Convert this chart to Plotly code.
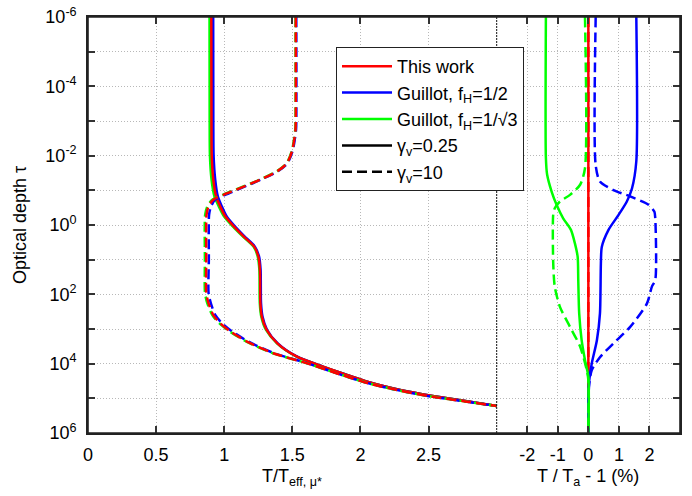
import plotly.graph_objects as go

# ---------------- data ----------------
# Left panel: T / T_eff,mu*  vs optical depth tau
red_solid_tau = [1e-6, 1e-3, 1e-2, 5e-2, 0.15, 0.29, 0.56, 1.1, 2.1, 4.2, 7.9, 20, 180, 440,
                 1050, 2600, 6200, 1.2e4, 2.1e4, 3.3e4, 5.8e4, 8.5e4, 1.2e5, 1.66e5]
red_solid_T = [0.905, 0.906, 0.908, 0.92, 0.94, 0.97, 1.007, 1.07, 1.14, 1.22, 1.25, 1.262, 1.265, 1.276,
               1.31, 1.39, 1.53, 1.72, 1.90, 2.05, 2.30, 2.53, 2.77, 3.0]
green_solid_T = [0.892, 0.893, 0.895, 0.907, 0.928, 0.96, 0.998, 1.063, 1.134, 1.215, 1.245, 1.258, 1.261, 1.272,
                 1.306, 1.387, 1.528, 1.72, 1.90, 2.05, 2.30, 2.53, 2.77, 3.0]
blue_solid_T = [0.919, 0.92, 0.922, 0.934, 0.953, 0.982, 1.017, 1.078, 1.147, 1.225, 1.255, 1.267, 1.27, 1.281,
                1.314, 1.393, 1.532, 1.72, 1.90, 2.05, 2.30, 2.53, 2.77, 3.0]

dashed_tau = [1e-6, 1e-3, 1.8e-3, 6.8e-3, 1.66e-2, 2.8e-2, 4.9e-2, 8.5e-2, 0.135, 0.186, 0.29, 0.5, 10,
              93, 182, 400, 680, 1170, 2300, 5000, 9800, 2.1e4, 3.7e4, 6e4, 8.9e4, 1.23e5, 1.66e5]
red_dashed_T = [1.525, 1.525, 1.523, 1.50, 1.46, 1.39, 1.265, 1.12, 0.995, 0.92, 0.885, 0.87, 0.868,
                0.868, 0.885, 0.92, 0.97, 1.044, 1.167, 1.36, 1.61, 1.86, 2.06, 2.29, 2.52, 2.77, 3.0]
green_dashed_T = [1.523, 1.523, 1.521, 1.498, 1.458, 1.387, 1.262, 1.114, 0.989, 0.912, 0.876, 0.86, 0.858,
                  0.859, 0.876, 0.913, 0.963, 1.039, 1.163, 1.357, 1.609, 1.86, 2.06, 2.29, 2.52, 2.77, 3.0]
blue_dashed_T = [1.529, 1.529, 1.527, 1.504, 1.464, 1.394, 1.27, 1.128, 1.007, 0.934, 0.903, 0.889, 0.887,
                 0.885, 0.902, 0.935, 0.984, 1.057, 1.177, 1.366, 1.612, 1.86, 2.06, 2.29, 2.52, 2.77, 3.0]

# Right panel: T / T_a - 1 (%) vs optical depth tau
red_tau = [1e-6, 1e6]
red_pct = [0.0, 0.0]
green_solid_tau = [1e-6, 1.15e-2, 3.5e-2, 0.11, 0.26, 0.65, 1.38, 3.4, 8.3, 39, 355, 2100, 7900, 2.4e4, 1e6]
green_solid_pct = [-1.39, -1.39, -1.35, -1.20, -1.04, -0.82, -0.57, -0.44, -0.35, -0.33, -0.30, -0.22, -0.11, 0.0, 0.0]
blue_solid_tau = [1e-6, 1.45e-2, 8.7e-2, 0.21, 0.51, 1.38, 4.3, 12.9, 355, 2100, 1e4, 3e4, 1e5, 1e6]
blue_solid_pct = [1.57, 1.57, 1.43, 1.26, 0.99, 0.66, 0.44, 0.41, 0.38, 0.28, 0.11, 0.03, 0.0, 0.0]
green_dashed_tau = [1e-6, 2.3e-2, 6.9e-2, 0.135, 0.21, 0.33, 0.5, 12.6, 60, 230, 870, 3200, 1.55e4, 3e4, 1e6]
green_dashed_pct = [-0.11, -0.11, -0.27, -0.60, -0.93, -1.10, -1.15, -1.15, -1.10, -0.93, -0.60, -0.27, -0.05, 0.0, 0.0]
blue_dashed_tau = [1e-6, 1.9e-2, 5.6e-2, 9.8e-2, 0.15, 0.26, 0.41, 0.63, 39, 60, 182, 870, 2600, 6500,
                   1.55e4, 3.8e4, 1e5, 1e6]
blue_dashed_pct = [0.24, 0.24, 0.38, 0.82, 1.37, 1.97, 2.16, 2.19, 2.19, 2.08, 1.92, 1.37, 0.82, 0.38,
                   0.11, 0.03, 0.0, 0.0]

left_xticks = [0, 0.5, 1, 1.5, 2, 2.5]
left_xtext = ["0", "0.5", "1", "1.5", "2", "2.5"]
right_xticks = [-2, -1, 0, 1, 2]
right_xtext = ["-2", "-1", "0", "1", "2"]
ytickvals = [1e-6, 1e-5, 1e-4, 1e-3, 1e-2, 1e-1, 1, 10, 100, 1e3, 1e4, 1e5, 1e6]
yticktext = ["10<sup>-6</sup>", "", "10<sup>-4</sup>", "", "10<sup>-2</sup>", "",
             "10<sup>0</sup>", "", "10<sup>2</sup>", "", "10<sup>4</sup>", "", "10<sup>6</sup>"]

legend_names = ["This work", "Guillot, f<sub>H</sub>=1/2", "Guillot, f<sub>H</sub>=1/\u221a3",
                "\u03b3<sub>v</sub>=0.25", "\u03b3<sub>v</sub>=10"]
left_title = "T/T<sub>eff, \u03bc*</sub>"
right_title = "T / T<sub>a</sub> - 1 (%)"
y_title = "Optical depth \u03c4"

RED, BLUE, GREEN = "#ff0000", "#0000ff", "#00ff00"
DASH = "10px,5px"
LW = 2.5
FONT = "Liberation Sans, Arial, Helvetica, sans-serif"

fig = go.Figure()


def add(x, y, color, dash, xa, ya):
    fig.add_trace(go.Scatter(x=x, y=y, mode="lines", xaxis=xa, yaxis=ya, showlegend=False,
                             hoverinfo="skip",
                             line=dict(color=color, width=LW, dash=dash, shape="spline", smoothing=0.7)))


# left panel (red on top)
add(green_solid_T, red_solid_tau, GREEN, "solid", "x", "y")
add(blue_solid_T, red_solid_tau, BLUE, "solid", "x", "y")
add(red_solid_T, red_solid_tau, RED, "solid", "x", "y")
add(blue_dashed_T, dashed_tau, BLUE, DASH, "x", "y")
add(green_dashed_T, dashed_tau, GREEN, DASH, "x", "y")
add(red_dashed_T, dashed_tau, RED, DASH, "x", "y")

# right panel
add(red_pct, red_tau, RED, "solid", "x2", "y2")
add(red_pct, red_tau, RED, DASH, "x2", "y2")
add(blue_solid_pct, blue_solid_tau, BLUE, "solid", "x2", "y2")
add(blue_dashed_pct, blue_dashed_tau, BLUE, DASH, "x2", "y2")
add(green_solid_pct, green_solid_tau, GREEN, "solid", "x2", "y2")
add(green_dashed_pct, green_dashed_tau, GREEN, DASH, "x2", "y2")

# legend entries
for name, color, dash in zip(legend_names,
                             [RED, BLUE, GREEN, "black", "black"],
                             ["solid", "solid", "solid", "solid", DASH]):
    fig.add_trace(go.Scatter(x=[None], y=[None], mode="lines", name=name, xaxis="x", yaxis="y",
                             line=dict(color=color, width=LW, dash=dash)))

PW, PH = 592, 416
split = (496.7 - 88) / PW

axis_common = dict(showline=True, linecolor="#222", linewidth=1.6, ticks="inside", ticklen=7,
                   tickcolor="#333", tickwidth=1.5, showgrid=True, gridcolor="#b8b8b8", griddash="1px,2px",
                   gridwidth=1, zeroline=False, automargin=False,
                   tickfont=dict(family=FONT, size=18, color="black"))

fig.update_layout(
    width=692, height=496,
    margin=dict(l=88, r=12, t=17, b=63),
    paper_bgcolor="white", plot_bgcolor="white",
    font=dict(family=FONT, size=18, color="black"),
    xaxis=dict(domain=[0, split], range=[0, 3], anchor="y", mirror="ticks",
               tickmode="array", tickvals=left_xticks, ticktext=left_xtext, ticklabelstandoff=5,
               **axis_common),
    xaxis2=dict(domain=[split, 1], range=[-3, 3], anchor="y2", mirror="ticks",
                tickmode="array", tickvals=right_xticks, ticktext=right_xtext, ticklabelstandoff=5,
                **axis_common),
    yaxis=dict(type="log", range=[6, -6], anchor="x", domain=[0, 1],
               tickmode="array", tickvals=ytickvals, ticktext=yticktext, ticklabelstandoff=6,
               **axis_common),
    yaxis2=dict(type="log", range=[6, -6], anchor="x2", domain=[0, 1], side="right", matches="y",
                tickmode="array", tickvals=ytickvals, showticklabels=False,
                **axis_common),
    legend=dict(x=(336 - 88) / PW, y=(433 - 47) / PH, xanchor="left", yanchor="top",
                bgcolor="white", bordercolor="#222", borderwidth=1,
                font=dict(family=FONT, size=18, color="black"), itemwidth=50,
                tracegroupgap=0),
    shapes=[
        dict(type="line", xref="paper", yref="paper", x0=split, x1=split, y0=0, y1=1,
             line=dict(color="#111", width=1, dash="2px,1px")),
        dict(type="rect", xref="paper", yref="paper", x0=0, x1=1, y0=0, y1=1,
             line=dict(color="#222", width=1.6), fillcolor="rgba(0,0,0,0)", layer="above"),
    ],
    annotations=[
        dict(text=left_title, xref="paper", yref="paper", x=split / 2, y=-(477 - 433) / PH,
             xanchor="center", yanchor="middle", showarrow=False, font=dict(size=18)),
        dict(text=right_title, xref="paper", yref="paper", x=(split + 1) / 2, y=-(477 - 433) / PH,
             xanchor="center", yanchor="middle", showarrow=False, font=dict(size=18)),
        dict(text=y_title, xref="paper", yref="paper", x=-(88 - 20) / PW, y=0.5,
             xanchor="center", yanchor="middle", textangle=-90, showarrow=False, font=dict(size=18)),
    ],
)

fig.write_html("out.html", config={"displayModeBar": False},
               post_script="document.body.style.margin='0';")
